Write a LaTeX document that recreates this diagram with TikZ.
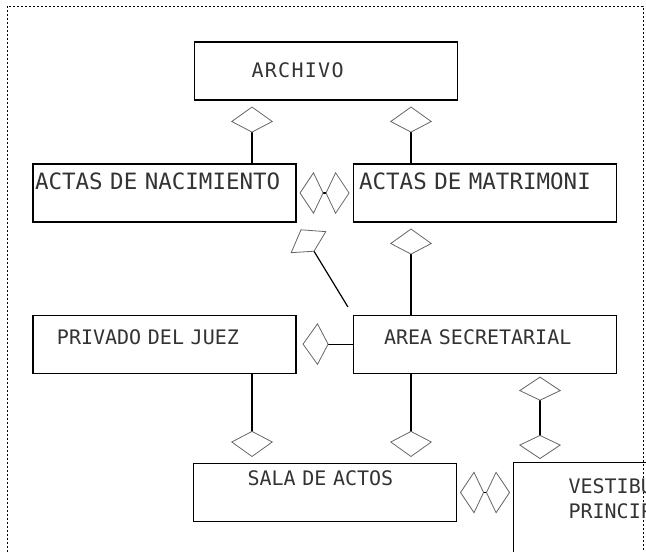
\documentclass[tikz,border=0pt]{standalone}
\usepackage{fontspec}
\newfontfamily\typefont{DejaVu Sans Mono}
\usetikzlibrary{arrows.meta,positioning}
\tikzset{box/.style={draw,line width=1.1pt,minimum height=58pt,text width=263pt,inner xsep=0pt,inner ysep=0pt,align=left,text height=15pt,font=\typefont\fontsize{20}{25}\selectfont,text=black!80},arrow/.style={-{Kite[open,length=26pt,width=42pt,inset=11pt,line width=0.8pt,color=black!60]},line width=1.2pt,shorten >=6pt},twoway/.style={{Kite[open,length=24pt,width=42pt,inset=10pt,line width=0.8pt,color=black!60]}-{Kite[open,length=24pt,width=42pt,inset=10pt,line width=0.8pt,color=black!60]},line width=1.2pt,shorten >=3pt,shorten <=3pt},frame/.style={line width=0.8pt,dash pattern=on 2pt off 2pt},wide/.style={font=\typefont\fontsize{22.5}{25}\selectfont}}

\begin{document}
\begin{tikzpicture}[x=1pt,y=-1pt]
\useasboundingbox (0,0) rectangle (646,552);
\clip (0,0) rectangle (646,552);
\draw[frame] (7,6) rectangle (643,640);
\node[box,text depth=3pt] (archivo) at (326,71) {\hspace*{57pt}\addfontfeatures{LetterSpace=6.5}ARCHIVO};
\node[box,wide,text depth=22pt] (nacim) at (164.5,193) {\hspace*{2pt}ACTAS DE NACIMIENTO};
\node[box,wide,text depth=22pt,right=56pt of nacim] (matrim) {\hspace*{6pt}ACTAS DE MATRIMONI};
\node[box,text depth=14pt,below=92pt of nacim] (privado) {\hspace*{24pt}PRIVADO DEL JUEZ};
\node[box,text depth=14pt,right=56pt of privado] (area) {\hspace*{31pt}AREA SECRETARIAL};
\node[box,text depth=29pt] (sala) at (325,492.5) {\hspace*{54pt}SALA DE ACTOS};
\node[box,text width=200pt,minimum height=140pt,text depth=94pt,anchor=north west] (vest) at (513,462) {\hspace*{55pt}VESTIBULO\\\hspace*{55pt}PRINCIPAL};
\draw[arrow] (nacim.north -| 252,0) -- (archivo.south -| 252,0);
\draw[arrow] (matrim.north -| 411,0) -- (archivo.south -| 411,0);
\draw[twoway] (nacim) -- (matrim);
\draw[arrow,shorten <=9pt,shorten >=8pt] (area.north west) -- (nacim.south east);
\draw[arrow] (area.north -| 411,0) -- (matrim.south -| 411,0);
\draw[arrow] (area) -- (privado);
\draw[arrow] (privado.south -| 252,0) -- (sala.north -| 252,0);
\draw[arrow] (area.south -| 411,0) -- (sala.north -| 411,0);
\draw[twoway] (area.south -| 540,0) -- (vest.north -| 540,0);
\draw[twoway] (sala.east) -- (sala.east -| vest.west);
\end{tikzpicture}
\end{document}
